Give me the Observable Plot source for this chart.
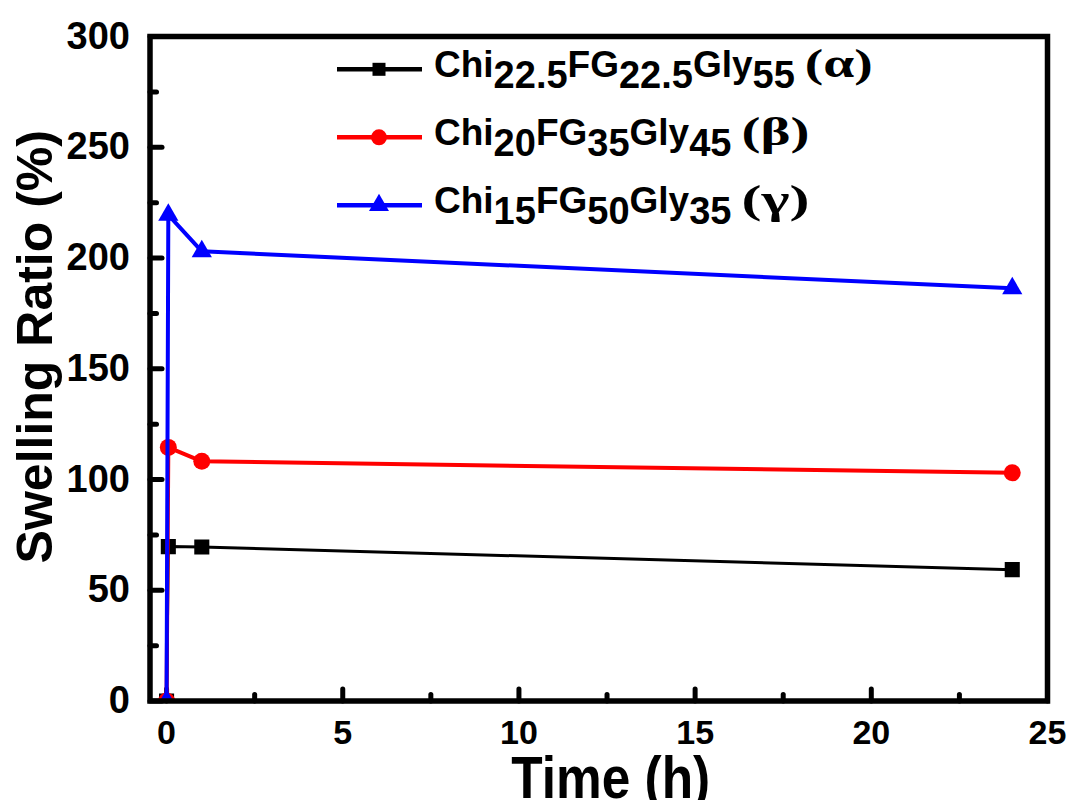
<!DOCTYPE html>
<html><head><meta charset="utf-8">
<script src="https://cdn.jsdelivr.net/npm/d3@7"></script>
<script src="https://cdn.jsdelivr.net/npm/@observablehq/plot@0.6"></script>
<style>
html,body{margin:0;padding:0;background:#fff;}
#chart{width:1072px;height:800px;}
</style></head><body><div id="chart"></div>
<script>
// ---- data ----
const times = [0, 0.05, 1, 24];
const alphaValues = [0, 69.7, 69.5, 59.3];
const betaValues = [0, 114.5, 108.2, 103];
const gammaValues = [0, 219.5, 203, 186.3];
const seriesKeys = ["alpha", "beta", "gamma"];
const seriesColors = ["#000000", "#ff0000", "#0000ff"];
const seriesSymbols = ["square", "circle", "triangle"];
const chiSub = ["22.5", "20", "15"];
const fgSub = ["22.5", "35", "50"];
const glySub = ["55", "45", "35"];
const greek = ["α", "β", "γ"];
const xMajorTicks = [0, 5, 10, 15, 20, 25];
const xMinorTicks = [2.5, 7.5, 12.5, 17.5, 22.5];
const yMajorTicks = [0, 50, 100, 150, 200, 250, 300];
const yMinorTicks = [25, 75, 125, 175, 225, 275];
const xLabel = "Time (h)";
const yLabel = "Swelling Ratio (%)";

const valueSets = [alphaValues, betaValues, gammaValues];
const rows = seriesKeys.flatMap((k, i) => times.map((t, j) => ({series: k, time: t, value: valueSets[i][j]})));

const font = "'Liberation Sans', Arial, Helvetica, sans-serif";
const serif = "'Liberation Serif', 'Times New Roman', serif";
const tickShape = {draw(ctx, l) { ctx.moveTo(0, 0); ctx.lineTo(0, -l); }};
const lineWidths = [3, 4, 4];
const dotR = [8.5, 8.5, 7.5];

const seriesMarks = seriesKeys.flatMap((k, i) => {
  const d = rows.filter(r => r.series === k);
  return [
    Plot.line(d, {x: "time", y: "value", stroke: seriesColors[i], strokeWidth: lineWidths[i], clip: true}),
    Plot.dot(d, {x: "time", y: "value", symbol: seriesSymbols[i], fill: seriesColors[i], stroke: "none", r: dotR[i], clip: true})
  ];
});

const plot = Plot.plot({
  width: 1072, height: 800,
  marginLeft: 149.5, marginRight: 25, marginTop: 36, marginBottom: 99.5,
  style: {fontFamily: font, fontWeight: "bold", background: "white", color: "black"},
  x: {domain: [-0.47, 25]},
  y: {domain: [0, 300]},
  marks: [
    Plot.axisX(xMajorTicks, {tickSize: 0, tickPadding: 19, fontSize: 34, fontWeight: "bold", label: null}),
    Plot.axisY(yMajorTicks, {tickSize: 0, tickPadding: 20, fontSize: 38, fontWeight: "bold", label: null}),
    Plot.vector(xMajorTicks, {x: d => d, frameAnchor: "bottom", length: 12, rotate: 0, anchor: "start", shape: tickShape, stroke: "black", strokeWidth: 5}),
    Plot.vector(xMinorTicks, {x: d => d, frameAnchor: "bottom", length: 6.5, rotate: 0, anchor: "start", shape: tickShape, stroke: "black", strokeWidth: 5}),
    Plot.vector(yMajorTicks, {y: d => d, frameAnchor: "left", length: 12, rotate: 90, anchor: "start", shape: tickShape, stroke: "black", strokeWidth: 5}),
    Plot.vector(yMinorTicks, {y: d => d, frameAnchor: "left", length: 6.5, rotate: 90, anchor: "start", shape: tickShape, stroke: "black", strokeWidth: 5}),
    ...seriesMarks,
    Plot.frame({stroke: "black", strokeWidth: 5.5}),
    Plot.text([xLabel], {frameAnchor: "bottom", lineAnchor: "middle", textAnchor: "middle", dx: 12, dy: 77.3, fontSize: 60, fontWeight: "bold"}),
    Plot.text([yLabel], {frameAnchor: "left", lineAnchor: "middle", textAnchor: "middle", dx: -113.8, dy: -22, rotate: -90, fontSize: 50, fontWeight: "bold"})
  ]
});
document.getElementById("chart").appendChild(plot);

const svg = d3.select(plot);
svg.selectAll("text").filter(function () { return this.textContent === xLabel; })
  .attr("textLength", 199).attr("lengthAdjust", "spacingAndGlyphs");

// ---- legend ----
const symbolTypes = [d3.symbolSquare, d3.symbolCircle, d3.symbolTriangle];
const symbolAreas = [169, 201, 173];
const lg = svg.append("g").attr("text-anchor", "start");
seriesKeys.forEach((k, i) => {
  const cy = 69.3 + i * 68;
  lg.append("line").attr("x1", 337).attr("x2", 422).attr("y1", cy).attr("y2", cy)
    .attr("stroke", seriesColors[i]).attr("stroke-width", 4.5);
  lg.append("path").attr("d", d3.symbol(symbolTypes[i], symbolAreas[i])())
    .attr("transform", `translate(379,${cy})`).attr("fill", seriesColors[i]);
  const t = lg.append("text").attr("x", 434).attr("y", cy + 8).attr("text-anchor", "start")
    .attr("font-size", 37).attr("font-weight", "bold").attr("font-family", font).attr("fill", "black");
  t.append("tspan").text("Chi");
  t.append("tspan").attr("dy", 11).attr("font-size", 38).text(chiSub[i]);
  t.append("tspan").attr("dy", -11).text("FG");
  t.append("tspan").attr("dy", 11).attr("font-size", 38).text(fgSub[i]);
  t.append("tspan").attr("dy", -11).text("Gly");
  t.append("tspan").attr("dy", 11).attr("font-size", 38).text(glySub[i]);
  t.append("tspan").attr("dy", -11).attr("dx", 10).attr("font-family", serif).attr("font-size", 40)
    .attr("textLength", 68).attr("lengthAdjust", "spacingAndGlyphs").text(`(${greek[i]})`);
});
</script></body></html>
